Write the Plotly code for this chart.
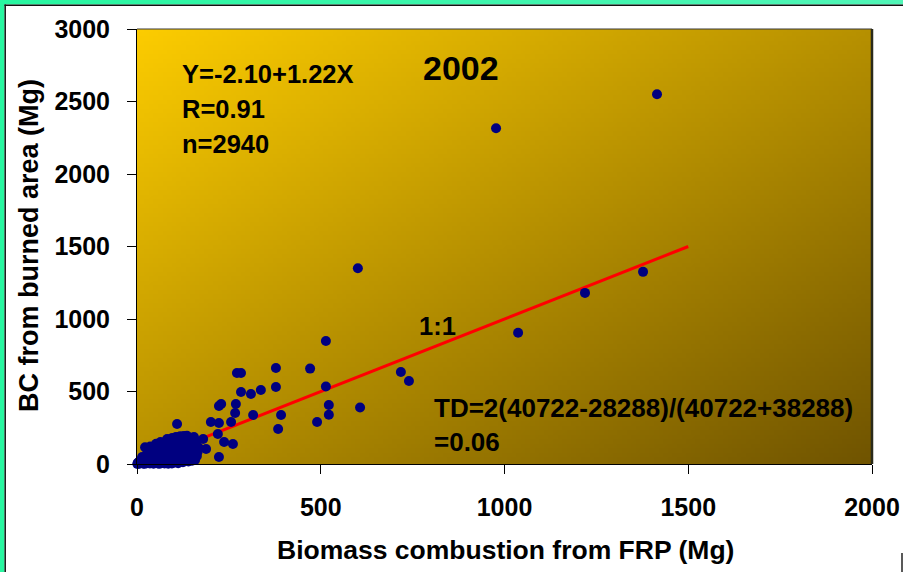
import base64
import struct
import zlib

import plotly.graph_objects as go

# Biomass combustion from FRP (Mg) vs. BC from burned area (Mg), 2002
frp_mg = [
    1415, 977, 601, 1219, 1377, 1037, 718, 740, 607, 514, 471, 514, 522, 522, 490,
    378, 378, 337, 310, 283, 272, 283, 229, 223, 269, 267, 316, 392, 201, 223, 256,
    384, 220, 237, 261, 109, 128, 155, 180, 188, 223, 158,
    1, 2, 3, 4, 5, 6, 8, 9, 10, 12, 13, 15, 16, 18, 19, 21, 22, 24, 26, 27, 29, 30,
    32, 34, 35, 37, 38, 40, 42, 44, 45, 47, 49, 50, 52, 54, 56, 58, 60, 62, 64, 66,
    68, 70, 72, 74, 76, 78, 80, 82, 84, 86, 88, 90, 92, 94, 96, 98, 100, 102, 104,
    106, 108, 110, 112, 114, 116, 118, 120, 122, 124, 126, 128, 130, 133, 136, 139,
    142, 145, 148, 151, 154, 157, 160, 163, 165, 167, 150, 140, 125, 112, 95, 85,
    75, 60, 45, 35, 20, 14, 22, 28, 36, 52, 64, 82, 96, 106, 118, 136,
]
ba_mg = [
    2550, 2315, 1350, 1180, 1325, 905, 635, 572, 390, 848, 658, 535, 407, 340, 290,
    662, 531, 510, 483, 497, 628, 628, 414, 400, 414, 352, 338, 338, 290, 283, 290,
    241, 207, 152, 138, 276, 193, 186, 172, 103, 48, 28,
    1, 4, 9, 2, 14, 6, 20, 3, 11, 28, 7, 17, 36, 4, 24, 45, 12, 31, 58, 6, 19, 40,
    72, 10, 27, 50, 88, 15, 34, 62, 104, 8, 22, 44, 78, 118, 14, 30, 55, 92, 132, 6,
    20, 40, 70, 108, 145, 12, 28, 50, 84, 122, 158, 18, 36, 62, 98, 136, 168, 10, 26,
    48, 76, 112, 150, 178, 20, 38, 60, 92, 128, 162, 188, 30, 52, 80, 110, 145, 175,
    40, 68, 98, 130, 160, 55, 85, 115, 22, 18, 12, 5, 4, 2,
    3, 1, 2, 3, 1, 48, 115, 95, 120, 140, 152, 172, 180, 186, 192, 195,
]

# 1:1 reference line
line_x = [0, 1500]
line_y = [0, 1500]

x_ticks = [0, 500, 1000, 1500, 2000]
y_ticks = [0, 500, 1000, 1500, 2000, 2500, 3000]

FONT = "Liberation Sans, Arial, sans-serif"


def png_data_uri(width, height, color_at):
    """Encode a small RGB image as a PNG data URI."""
    rows = []
    for j in range(height):
        row = bytearray([0])
        for i in range(width):
            row.extend(color_at(i / (width - 1), j / (height - 1)))
        rows.append(bytes(row))
    raw = b"".join(rows)

    def chunk(tag, data):
        body = tag + data
        return struct.pack(">I", len(data)) + body + struct.pack(">I", zlib.crc32(body) & 0xFFFFFFFF)

    png = b"\x89PNG\r\n\x1a\n"
    png += chunk(b"IHDR", struct.pack(">IIBBBBB", width, height, 8, 2, 0, 0, 0))
    png += chunk(b"IDAT", zlib.compress(raw, 9))
    png += chunk(b"IEND", b"")
    return "data:image/png;base64," + base64.b64encode(png).decode("ascii")


def mix(c0, c1, t):
    return [int(round(a + (b - a) * t)) for a, b in zip(c0, c1)]


# Diagonal gold -> dark olive fill for the plotting area
gold = (252, 204, 0)
olive = (112, 84, 0)
plot_fill = png_data_uri(160, 96, lambda u, v: mix(gold, olive, (u + v) / 2))

# Green frame strip along the top
green_left = (40, 246, 160)
green_right = (80, 245, 182)
top_strip = png_data_uri(64, 2, lambda u, v: mix(green_left, green_right, u))

# Plot-area pixel box used to place items around the axes
L, R, T, B = 137, 872, 29, 464
W, H = 903, 572


def px(xp):
    return (xp - L) / (R - L)


def py(yp):
    return (B - yp) / (B - T)


fig = go.Figure()

fig.add_trace(go.Scatter(
    x=line_x, y=line_y, mode="lines",
    line=dict(color="#ff0000", width=3),
    hoverinfo="skip", showlegend=False,
))
fig.add_trace(go.Scatter(
    x=frp_mg, y=ba_mg, mode="markers",
    marker=dict(color="#000080", size=10, line=dict(width=0)),
    cliponaxis=False, showlegend=False,
))

tick_font = dict(family=FONT, size=25, color="black", weight="bold")

fig.update_xaxes(
    range=[0, 2000], tickvals=x_ticks, ticks="outside", ticklen=9,
    tickcolor="black", tickwidth=1, showline=True, linecolor="black",
    linewidth=1, showgrid=False, zeroline=False, tickfont=tick_font,
    ticklabelstandoff=12, automargin=False,
)
fig.update_yaxes(
    range=[0, 3000], tickvals=y_ticks, ticks="outside", ticklen=9,
    tickcolor="black", tickwidth=1, showline=True, linecolor="black",
    linewidth=1, showgrid=False, zeroline=False, tickfont=tick_font,
    ticklabelstandoff=12, automargin=False,
)

notes = [
    ("Y=-2.10+1.22X", 180, 74, "left", 25.5),
    ("R=0.91", 180, 109, "left", 25.5),
    ("n=2940", 180, 144, "left", 25.5),
    ("2002", 461, 68, "center", 34),
    ("1:1", 437, 326, "center", 25.5),
    ("TD=2(40722-28288)/(40722+38288)", 432, 408, "left", 26),
    ("=0.06", 432, 442, "left", 26),
]
annotations = []
for text, xp, yp, anchor, size in notes:
    annotations.append(dict(
        text=text, x=px(xp), y=py(yp), xref="paper", yref="paper",
        xanchor=anchor, yanchor="middle", showarrow=False,
        font=dict(family=FONT, size=size, color="black", weight="bold"),
    ))

# Axis titles
annotations.append(dict(
    text="Biomass combustion from FRP (Mg)", x=px(505), y=py(550),
    xref="paper", yref="paper", xanchor="center", yanchor="middle",
    showarrow=False, font=dict(family=FONT, size=26.5, color="black", weight="bold"),
))
annotations.append(dict(
    text="BC from burned area (Mg)", x=px(29), y=py(246), textangle=-90,
    xref="paper", yref="paper", xanchor="center", yanchor="middle",
    showarrow=False, font=dict(family=FONT, size=27, color="black", weight="bold"),
))

shapes = [
    # green frame on the left and its dark inner edge
    dict(type="rect", xref="paper", yref="paper", x0=px(0), x1=px(4.5), y0=py(W), y1=py(0),
         fillcolor="rgb(40,246,160)", line=dict(width=0), layer="below"),
    dict(type="line", xref="paper", yref="paper", x0=px(5.2), x1=px(5.2), y0=py(4.5), y1=py(W),
         line=dict(color="#111111", width=1.5), layer="below"),
    dict(type="line", xref="paper", yref="paper", x0=px(4.5), x1=px(W + 5), y0=py(5.2), y1=py(5.2),
         line=dict(color="#111111", width=1.5), layer="below"),
    # small frame edge at the lower right
    dict(type="line", xref="paper", yref="paper", x0=px(902), x1=px(902), y0=py(553), y1=py(W),
         line=dict(color="#222222", width=1.5), layer="below"),
    # plot-area border (top and right edges)
    dict(type="line", xref="paper", yref="paper", x0=0, x1=1, y0=1, y1=1,
         line=dict(color="#3a3a3a", width=1.2), layer="above"),
    dict(type="line", xref="paper", yref="paper", x0=1, x1=1, y0=0, y1=1,
         line=dict(color="#2a2a1a", width=2.5), layer="above"),
]

images = [
    dict(source=plot_fill, xref="x", yref="y", x=0, y=3000, sizex=2000, sizey=3000,
         sizing="stretch", xanchor="left", yanchor="top", layer="below"),
    dict(source=top_strip, xref="paper", yref="paper", x=px(0), y=py(0),
         sizex=px(W) - px(0), sizey=py(0) - py(4.5), sizing="stretch",
         xanchor="left", yanchor="top", layer="below"),
]

fig.update_layout(
    width=W, height=H,
    margin=dict(l=L, r=W - R, t=T, b=H - B, pad=0, autoexpand=False),
    paper_bgcolor="white", plot_bgcolor="rgba(0,0,0,0)",
    font=dict(family=FONT, color="black"),
    annotations=annotations, shapes=shapes, images=images,
    showlegend=False,
)

fig.write_html("out.html")
